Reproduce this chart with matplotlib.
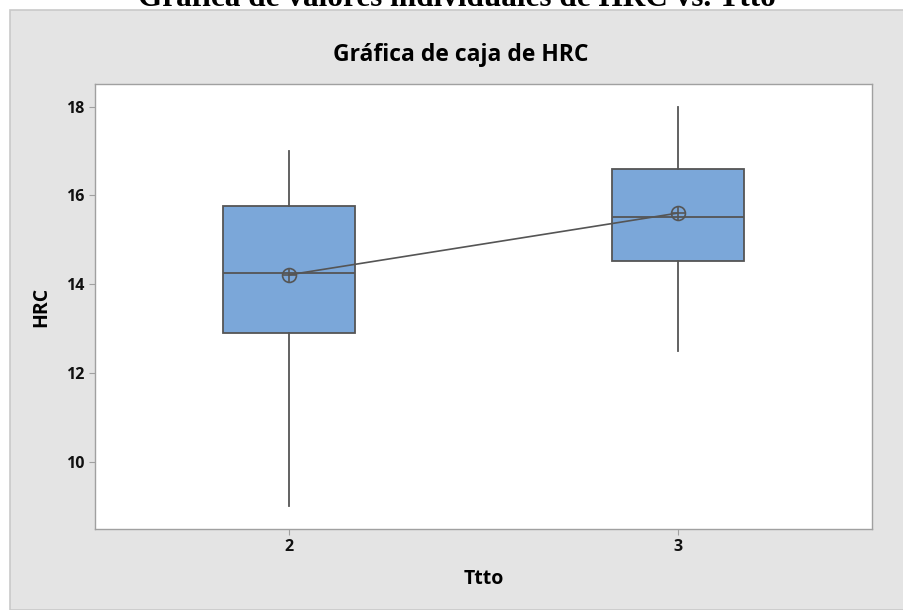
import matplotlib
matplotlib.use("Agg")
import matplotlib.pyplot as plt
from matplotlib.patches import Rectangle

# Data (Minitab-style box plot)
groups = [2, 3]
whisker_low = [9.0, 12.5]
q1 = [12.9, 14.52]
median = [14.25, 15.52]
q3 = [15.75, 16.6]
whisker_high = [17.0, 18.0]
means = [14.21, 15.6]
y_ticks = [10, 12, 14, 16, 18]

plt.rcParams['font.family'] = ['Open Sans', 'DejaVu Sans']

fig = plt.figure(figsize=(9.04, 6.1), dpi=100)
fig.patch.set_facecolor('white')

# gray Minitab panel (behind the axes)
fig.patches.append(Rectangle((10 / 904, 0), 1, 1 - 10 / 610, transform=fig.transFigure,
                             facecolor='#E4E4E4', edgecolor='#C9C9C9', linewidth=1.2, zorder=-10))

# cut-off document heading above the chart
fig.text(0.505, 1.0 + 1 / 610, 'Gráfica de valores individuales de HRC vs. Ttto',
         family='Liberation Serif', fontweight='bold', fontsize=22.5, ha='center', va='center')

ax = fig.add_axes([95 / 904, 1 - 529 / 610, 777 / 904, 445 / 610])
ax.set_facecolor('white')

stats = []
for i, g in enumerate(groups):
    stats.append(dict(whislo=whisker_low[i], q1=q1[i], med=median[i], q3=q3[i],
                      whishi=whisker_high[i], mean=means[i], fliers=[], label=str(g)))

edge = '#555555'
ax.bxp(stats, positions=groups, widths=0.34, patch_artist=True, showcaps=False,
       showfliers=False, showmeans=False,
       boxprops=dict(facecolor='#7BA7D9', edgecolor=edge, linewidth=1.3),
       medianprops=dict(color=edge, linewidth=1.3),
       whiskerprops=dict(color=edge, linewidth=1.3))

# mean connect line and circled-plus symbols
ax.plot(groups, means, color=edge, linewidth=1.2, zorder=4)
ax.plot(groups, means, linestyle='none', marker='o', markersize=10, markerfacecolor='none',
        markeredgecolor=edge, markeredgewidth=1.2, zorder=5)
ax.plot(groups, means, linestyle='none', marker='+', markersize=10, markeredgecolor=edge,
        markeredgewidth=1.2, zorder=5)

ax.set_xlim(1.5, 3.5)
ax.set_ylim(8.48, 18.51)
ax.set_xticks(groups)
ax.set_xticklabels([str(g) for g in groups])
ax.set_yticks(y_ticks)

for s in ax.spines.values():
    s.set_color('#A0A0A0')
    s.set_linewidth(1.0)
ax.tick_params(axis='both', color='#A0A0A0', length=4, labelsize=11.5, labelcolor='#111111')
for lab in ax.get_xticklabels() + ax.get_yticklabels():
    lab.set_fontweight('bold')

ax.set_xlabel('Ttto', fontsize=14, fontweight='bold', labelpad=10)
ax.set_ylabel('HRC', fontsize=14, fontweight='bold', labelpad=11)
fig.text(461 / 904, 1 - 55 / 610, 'Gráfica de caja de HRC', fontsize=16.5, fontweight='bold',
         ha='center', va='center')

fig.savefig('out.png', dpi=100)
